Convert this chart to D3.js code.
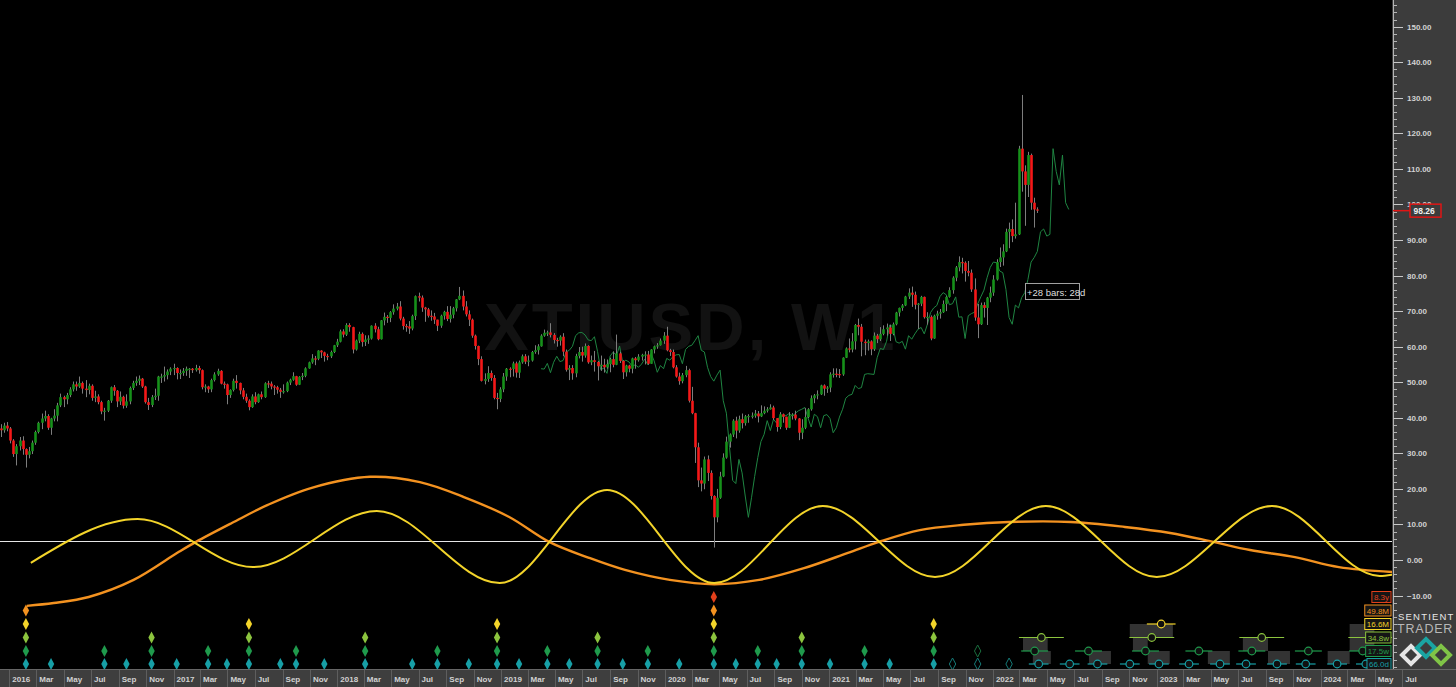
<!DOCTYPE html>
<html><head><meta charset="utf-8">
<script src="https://cdn.jsdelivr.net/npm/d3@7"></script>
<style>
html,body{margin:0;padding:0;background:#000;overflow:hidden}
svg{display:block}
</style></head><body>
<svg id="c" width="1456" height="687"></svg>
<script>
// ---------------- DATA ----------------
const symbolTitle = "XTIUSD, W1";
const firstWeekStart = "2015-12-13";
const firstOpen = 37.0;
const closes = [
36.5,37.8,37.0,33.6,29.8,32.0,33.6,31.2,29.6,30.6,
33.0,36.0,38.6,39.8,40.5,37.2,39.8,40.6,43.5,45.8,
45.2,46.4,48.0,49.4,48.8,49.8,48.2,47.8,49.0,45.6,
46.0,44.4,41.8,42.0,44.8,48.6,47.6,44.6,45.9,43.4,
44.6,48.4,49.8,50.4,51.0,48.8,44.4,43.6,45.8,46.2,
51.6,51.6,52.0,53.0,53.8,54.0,52.6,52.6,53.2,53.8,
53.8,53.4,54.0,53.4,48.6,48.8,48.0,50.6,52.2,53.2,
49.6,49.4,46.4,47.8,50.4,49.8,47.7,45.9,44.8,43.0,
46.0,44.4,46.6,45.8,49.7,49.6,48.8,48.6,47.9,47.3,
47.5,49.9,50.7,51.7,49.3,51.5,51.8,53.9,55.6,56.7,
56.6,58.9,58.4,57.4,57.3,58.5,60.4,61.4,64.3,63.4,
66.1,65.5,59.2,61.7,63.6,61.3,62.0,62.3,65.9,64.9,
62.1,67.4,68.4,68.1,69.7,70.7,71.3,67.9,65.8,65.7,
65.1,68.6,74.2,73.8,71.0,70.5,68.7,68.5,67.6,65.9,
68.7,69.8,67.8,69.0,70.8,73.3,74.3,71.3,69.1,67.6,
63.1,60.2,56.5,50.4,50.9,52.6,51.2,45.6,45.3,48.0,
51.6,53.8,53.7,55.3,52.7,55.6,57.3,55.8,56.1,58.5,
59.0,60.1,63.1,63.9,64.0,63.3,61.9,61.7,62.8,58.6,
53.5,54.0,52.5,57.4,58.5,57.5,60.2,55.6,56.2,55.7,
54.5,54.9,54.2,55.1,56.5,54.9,58.1,56.0,52.8,54.7,
53.8,56.7,56.2,57.2,57.7,57.8,55.2,59.2,60.1,60.4,
61.7,63.1,59.0,58.5,54.2,51.6,50.3,52.0,53.4,44.8,
41.3,31.7,22.4,21.5,28.3,24.5,18.0,12.0,17.5,23.5,
28.8,33.3,35.3,39.2,36.4,39.6,38.5,40.4,40.5,40.6,
41.2,40.4,41.3,42.0,42.4,42.9,39.9,37.4,41.0,40.3,
37.2,40.6,40.9,39.8,35.8,37.2,40.2,42.4,45.5,46.3,
46.6,49.1,48.2,48.5,52.2,52.4,52.3,52.2,56.9,59.5,
59.2,61.5,66.1,65.6,61.4,61.0,61.5,59.3,63.1,62.1,
63.6,64.9,65.4,63.6,66.3,69.6,70.9,71.6,74.1,75.2,
74.6,71.8,72.1,74.0,68.3,68.4,62.3,68.7,69.3,69.7,
72.0,74.0,75.9,79.4,82.3,83.8,83.6,81.3,80.8,76.1,
68.2,66.3,71.7,70.9,73.8,75.2,78.9,83.8,85.1,86.8,
92.3,93.1,91.1,91.6,115.7,109.3,105.5,113.9,100.5,98.6,
98.26];
const highs = [
38.2,38.6,38.8,37.4,34.0,32.6,34.6,34.8,31.4,31.8,
33.6,36.4,38.9,41.2,42.0,41.0,40.0,42.4,44.2,46.8,
46.2,47.0,48.6,50.2,50.2,51.6,50.2,50.6,49.6,49.4,
47.6,46.6,44.8,42.8,45.0,48.8,49.2,47.8,47.4,46.2,
46.6,48.8,50.4,51.6,51.9,51.2,49.0,45.6,46.4,48.2,
51.8,52.4,54.4,53.6,54.2,55.2,54.2,53.6,54.0,54.4,
54.0,54.0,54.9,54.6,53.6,49.4,49.0,51.0,52.8,53.8,
53.4,50.2,49.6,48.0,51.0,52.0,49.9,48.4,46.8,45.2,
46.6,47.2,46.8,47.4,50.0,50.4,50.2,49.2,49.0,48.4,
49.4,50.2,51.0,52.8,51.8,51.7,52.6,54.2,55.8,57.9,
57.4,59.0,59.0,58.6,58.0,58.9,60.5,62.2,64.8,64.9,
66.6,66.6,65.6,62.0,64.2,64.0,63.2,63.2,66.0,66.6,
65.6,67.5,69.6,68.9,70.0,71.9,72.3,72.8,68.4,66.4,
67.2,69.0,74.4,75.2,74.4,71.2,70.9,70.2,69.5,67.6,
69.0,70.1,71.4,71.4,71.2,73.4,76.8,75.8,72.8,70.2,
67.9,63.4,60.3,57.3,52.5,54.5,53.3,52.0,47.0,48.6,
52.6,54.0,54.2,55.8,55.8,56.1,57.8,57.9,57.5,58.8,
60.4,60.7,63.5,64.8,64.5,66.6,63.8,62.5,63.2,63.8,
59.2,54.8,54.8,58.0,59.9,60.0,60.9,60.4,57.5,58.8,
56.0,57.5,56.6,56.4,56.9,58.7,63.4,58.6,56.2,54.9,
54.9,56.9,57.1,57.9,58.0,58.7,58.8,59.3,60.3,61.0,
62.3,64.1,65.6,59.4,59.2,54.8,52.7,52.6,54.6,53.8,
48.7,41.4,33.0,26.0,29.1,29.4,25.2,18.2,20.0,24.8,
30.0,34.7,35.6,39.6,40.3,40.6,41.2,40.8,41.0,41.5,
42.2,41.9,43.5,43.2,43.0,43.8,43.4,39.9,41.6,41.2,
40.3,41.6,41.3,42.0,39.9,39.6,42.7,42.7,46.3,46.7,
47.7,49.3,49.4,48.9,52.8,53.9,53.9,53.7,57.0,59.8,
62.3,63.8,66.4,67.9,66.4,62.0,62.0,61.8,64.0,63.6,
65.5,66.0,66.5,66.2,66.8,69.8,71.0,72.0,74.3,76.4,
76.9,75.5,72.3,74.3,74.1,69.7,68.8,69.0,70.1,70.6,
73.0,74.2,76.7,79.8,82.7,85.4,85.0,84.0,84.1,81.7,
79.2,72.0,72.4,72.5,74.0,76.9,80.1,84.6,87.9,88.8,
93.2,94.9,95.8,100.5,116.5,130.8,111.0,114.8,114.3,101.9,
99.2];
const lows = [
34.6,35.8,36.2,32.8,29.0,26.6,30.8,29.6,26.0,28.6,
29.8,32.4,35.6,36.8,39.0,36.6,35.2,39.0,39.0,43.0,
43.0,43.8,45.8,47.4,47.6,48.4,46.8,45.8,46.6,44.8,
44.4,43.8,41.0,39.2,41.6,44.2,46.2,43.0,43.6,42.6,
42.8,43.8,47.8,49.0,49.2,48.4,44.0,42.2,43.0,45.0,
44.8,49.8,50.2,50.8,52.0,52.0,50.8,50.9,51.8,51.8,
51.2,52.6,53.0,52.4,48.0,47.2,47.0,47.2,50.2,51.8,
49.4,48.2,43.8,45.6,47.4,48.2,46.6,45.2,44.2,42.1,
42.8,43.8,44.2,45.2,45.6,48.4,48.0,46.4,46.8,45.6,
46.8,47.2,49.2,50.4,49.0,49.2,50.6,51.4,53.8,55.2,
54.8,56.2,56.8,55.8,56.2,56.8,58.2,59.9,61.2,62.6,
63.0,64.2,58.1,58.9,61.0,60.0,60.2,60.8,62.0,64.0,
61.8,62.0,66.0,66.7,66.9,69.0,70.2,67.4,64.8,64.2,
63.6,64.6,67.5,72.7,69.8,67.0,68.2,67.3,66.4,64.4,
65.3,67.6,67.2,66.8,68.0,69.9,73.1,70.2,68.5,65.8,
62.5,59.2,54.8,50.2,49.4,50.1,50.4,45.2,42.4,44.4,
47.2,50.4,51.4,51.6,51.3,51.2,55.2,55.1,54.5,55.8,
58.0,57.8,60.0,62.8,63.0,62.6,60.9,60.0,60.3,57.3,
53.0,50.6,50.7,51.4,56.7,55.8,56.9,55.2,54.8,53.0,
50.5,53.2,52.7,53.8,52.8,54.2,54.8,55.4,50.9,51.6,
52.8,52.5,53.8,55.8,56.1,55.0,54.9,55.2,58.1,59.4,
60.3,60.8,58.7,57.4,53.9,51.3,49.3,49.7,51.4,44.3,
41.0,27.3,20.5,19.3,19.9,22.2,17.0,3.5,10.6,17.2,
23.3,28.5,31.6,34.6,34.2,35.8,37.0,37.8,38.6,39.8,
40.0,38.7,40.2,41.0,41.5,42.3,39.4,36.1,36.8,38.6,
36.6,37.1,39.5,39.3,33.7,34.0,36.8,39.9,42.0,44.1,
45.2,46.4,46.2,47.0,47.2,51.3,51.4,51.2,51.8,56.8,
58.4,58.4,59.2,63.2,57.3,57.6,58.9,57.6,58.8,61.0,
61.6,63.2,63.1,61.6,63.2,66.0,68.5,70.1,71.4,73.4,
71.2,70.5,65.0,71.4,67.9,66.2,61.8,62.2,67.6,67.9,
69.5,70.0,73.8,74.9,78.4,81.2,80.6,78.3,79.8,75.4,
67.3,62.4,66.1,68.2,66.1,72.5,74.3,78.6,82.4,82.8,
86.6,87.7,89.4,90.4,91.4,103.6,94.0,102.1,98.5,93.5,
97.6];

// forward-displaced line (FLD), one value per week starting at week index fldStartWeek
const fldStartWeek = 172;
const fldValues = [
53.8,53.7,55.3,52.7,55.6,57.3,55.8,56.1,58.5,
59.0,60.1,63.1,63.9,64.0,63.3,61.9,61.7,62.8,58.6,
53.5,54.0,52.5,57.4,58.5,57.5,60.2,55.6,56.2,55.7,
54.5,54.9,54.2,55.1,56.5,54.9,58.1,56.0,52.8,54.7,
53.8,56.7,56.2,57.2,57.7,57.8,55.2,59.2,60.1,60.4,
61.7,63.1,59.0,58.5,54.2,51.6,50.3,52.0,53.4,44.8,
41.3,31.7,22.4,21.5,28.3,24.5,18.0,12.0,17.5,23.5,
28.8,33.3,35.3,39.2,36.4,39.6,38.5,40.4,40.5,40.6,
41.2,40.4,41.3,42.0,42.4,42.9,39.9,37.4,41.0,40.3,
37.2,40.6,40.9,39.8,35.8,37.2,40.2,42.4,45.5,46.3,
46.6,49.1,48.2,48.5,52.2,52.4,52.3,52.2,56.9,59.5,
59.2,61.5,66.1,65.6,61.4,61.0,61.5,59.3,63.1,62.1,
63.6,64.9,65.4,63.6,66.3,69.6,70.9,71.6,74.1,75.2,
74.6,71.8,72.1,74.0,68.3,68.4,62.3,68.7,69.3,69.7,
72.0,74.0,75.9,79.4,82.3,83.8,83.6,81.3,80.8,76.1,
68.2,66.3,71.7,70.9,73.8,75.2,78.9,83.8,85.1,86.8,
92.3,93.1,91.1,91.6,115.7,109.3,105.5,113.9,100.5,98.6];

// cycle overlays (values in price-axis units)
const cycleZero = 5.35;
const yellowDates = ["2016-02-18","2016-10-13","2017-06-27","2018-03-30","2018-12-29","2019-08-25","2020-04-20","2020-12-18","2021-08-25","2022-04-29","2023-01-01","2023-09-15","2024-05-12","2024-06-10"];
const yellowValues = [-0.8,11.5,-2.0,13.8,-6.5,19.7,-6.5,15.2,-4.8,15.2,-4.8,15.2,-4.5,-4.1];
const orangeDates = ["2016-02-09","2016-04-09","2016-06-26","2016-10-04","2017-01-13","2017-02-20","2017-05-11","2017-07-30","2017-11-05","2018-03-15","2018-07-04","2018-10-10","2019-01-19","2019-04-18","2019-07-16","2019-10-04","2020-01-12","2020-04-20","2020-07-29","2020-11-06","2021-02-12","2021-04-22","2021-07-22","2021-10-28","2022-02-06","2022-06-24","2022-10-22","2023-01-31","2023-04-30","2023-07-28","2023-11-05","2024-02-11","2024-06-11"];
const orangeValues = [-12.9,-12.1,-10.4,-5.6,2.3,5.1,10.4,15.5,20.3,23.4,21.9,17.7,12.1,5.1,0.6,-2.8,-5.6,-6.8,-5.6,-2.3,2.0,5.1,8.4,9.9,10.7,10.7,9.3,7.6,5.3,2.8,0.8,-2.0,-3.4];

// cycle legend
const cycleLabels = ["8.3y","49.8M","16.6M","34.8w","17.5w","66.0d"];

// trough markers: week index + how many cycles trough there (1 = shortest only)
const troughWeeks = [8,16,33,40,48,56,66,72,79,89,94,103,116,131,139,149,158,165,174,181,190,198,206,216,227,234,241,247,255,264,275,283,297];
const troughDepth = [5,1,2,1,3,1,2,1,4,1,2,1,3,1,2,1,4,1,2,1,3,1,2,1,6,1,2,1,3,1,2,1,4];
const pendingWeeks = [303,311,321];
const pendingDepth = [1,2,1];

// projected future troughs per cycle row
const projYellow = ["2023-01-11"];
const projLime = ["2022-04-19","2022-12-21","2023-08-23","2024-04-22"];
const projGreen = ["2022-04-04","2022-08-02","2022-12-07","2023-04-05","2023-08-01","2023-12-05","2024-04-04"];
const projTeal = ["2022-04-13","2022-06-21","2022-08-22","2022-11-02","2023-01-06","2023-03-14","2023-05-22","2023-07-19","2023-09-26","2023-11-29","2024-02-07","2024-04-11"];
const projWindowDays = [0,0,32,50,30,22];
const projBoxes = [
 ["2022-03-09","2022-05-03",3,4],["2022-03-31","2022-05-10",4,5],["2022-08-03","2022-09-21",4,5],
 ["2022-11-02","2023-02-06",2,3],["2022-11-09","2022-12-12",3,4],["2022-12-12","2023-01-30",4,5],
 ["2023-04-25","2023-06-13",4,5],["2023-07-12","2023-09-06",3,4],["2023-09-06","2023-10-25",4,5],
 ["2024-01-17","2024-03-06",4,5],["2024-03-06","2024-04-30",2,4]];

const priceTicks = [-10,0,10,20,30,40,50,60,70,80,90,100,110,120,130,140,150];
const fldLabel = "+28 bars: 28d";

// ---------------- STYLE / LAYOUT ----------------
const W=1456,H=687, PR=1392, PB=669;
const cycleColors = ["#e2401b","#f39220","#f3d42a","#8cc43e","#1f9a4c","#179fa6"];
const rowY = [597,610.5,624,637.5,651,664];
const font = "'Liberation Sans', Arial, sans-serif";

const svg = d3.select("#c");
const parse = d3.timeParse("%Y-%m-%d");
const week0 = parse(firstWeekStart);
const weekDate = i => d3.timeDay.offset(week0, 7*i);

const x = d3.scaleTime().domain([new Date(2016,0,1), new Date(2024,0,1)]).range([9.3,1320.5]);
const y = d3.scaleLinear().domain([0,150]).range([560,26.7]);

svg.append("rect").attr("width",W).attr("height",H).attr("fill","#000");

const plot = svg.append("g");
svg.append("defs").append("clipPath").attr("id","pc").append("rect").attr("width",PR).attr("height",PB);
plot.attr("clip-path","url(#pc)");

// watermark
plot.append("text").attr("x",484).attr("y",350).text(symbolTitle)
  .attr("font-family",font).attr("font-weight",700).attr("font-size",67)
  .attr("letter-spacing",3).attr("fill","#121212");

// cycle zero line
plot.append("line").attr("x1",0).attr("x2",PR).attr("y1",Math.round(y(cycleZero))+0.5).attr("y2",Math.round(y(cycleZero))+0.5)
  .attr("stroke","#e6e6e6").attr("stroke-width",1);

const oLine = d3.line().curve(d3.curveCatmullRom.alpha(0.5)).x(d=>x(d[0])).y(d=>y(d[1]));
const yLine = d3.line().curve(d3.curveMonotoneX).x(d=>x(d[0])).y(d=>y(d[1]));
plot.append("path").datum(orangeDates.map((d,i)=>[parse(d),orangeValues[i]]))
  .attr("d",oLine).attr("fill","none").attr("stroke",cycleColors[1]).attr("stroke-width",2.4);
plot.append("path").datum(yellowDates.map((d,i)=>[parse(d),yellowValues[i]]))
  .attr("d",yLine).attr("fill","none").attr("stroke",cycleColors[2]).attr("stroke-width",2);

// FLD
plot.append("path").datum(fldValues.map((v,k)=>[weekDate(fldStartWeek+k),v]))
  .attr("d",d3.line().x(d=>x(d[0])).y(d=>y(d[1])))
  .attr("fill","none").attr("stroke","#1f8542").attr("stroke-width",1);

// candles
const candles = closes.map((c,i)=>{
  const o = i===0?firstOpen:closes[i-1];
  return {d:weekDate(i),o,c,h:Math.max(highs[i],o,c),l:Math.min(lows[i],o,c)};
});
const cg = plot.append("g");
cg.selectAll("line").data(candles).join("line")
  .attr("x1",d=>Math.round(x(d.d))+0.5).attr("x2",d=>Math.round(x(d.d))+0.5)
  .attr("y1",d=>y(d.h)).attr("y2",d=>y(d.l)).attr("stroke","#7d7d7d").attr("stroke-width",1);
cg.selectAll("rect").data(candles).join("rect")
  .attr("x",d=>Math.round(x(d.d))-0.8).attr("width",2.6)
  .attr("y",d=>y(Math.max(d.o,d.c)))
  .attr("height",d=>Math.max(1.2,Math.abs(y(d.o)-y(d.c))))
  .attr("fill",d=>d.c>=d.o?"#16901a":"#f41818");

// fld label
const lb = plot.append("g");
lb.append("rect").attr("x",1025.5).attr("y",283.5).attr("width",54).attr("height",16)
  .attr("fill","#000").attr("stroke","#a0a0a0").attr("stroke-width",1);
lb.append("text").attr("x",1027).attr("y",295.5).text(fldLabel)
  .attr("font-family",font).attr("font-size",9.5).attr("fill","#dedede");

// projection boxes
plot.selectAll("rect.pb").data(projBoxes).join("rect").attr("class","pb")
  .attr("x",d=>x(parse(d[0]))).attr("width",d=>x(parse(d[1]))-x(parse(d[0])))
  .attr("y",d=>rowY[d[2]]).attr("height",d=>rowY[d[3]]-rowY[d[2]])
  .attr("fill","#333333");

// projection lines + circles
[[2,projYellow],[3,projLime],[4,projGreen],[5,projTeal]].forEach(([row,dates])=>{
  const g = plot.append("g");
  dates.forEach(ds=>{
    const d = parse(ds);
    const x0 = x(d3.timeDay.offset(d,-projWindowDays[row])), x1 = x(d3.timeDay.offset(d,projWindowDays[row]));
    g.append("line").attr("x1",x0).attr("x2",x1).attr("y1",rowY[row]).attr("y2",rowY[row])
      .attr("stroke",cycleColors[row]).attr("stroke-width",1.2);
    g.append("circle").attr("cx",x(d)).attr("cy",rowY[row]).attr("r",3.8)
      .attr("fill","#101010").attr("stroke",cycleColors[row]).attr("stroke-width",1.2);
  });
});

// diamonds
const dia = (cx,cy)=>`M${cx},${cy-6}L${cx+3.2},${cy}L${cx},${cy+6}L${cx-3.2},${cy}Z`;
troughWeeks.forEach((w,k)=>{
  const cx = x(weekDate(w));
  for(let r=6-troughDepth[k]; r<=5; r++){
    plot.append("path").attr("d",dia(cx,rowY[r])).attr("fill",cycleColors[r]);
  }
});
pendingWeeks.forEach((w,k)=>{
  const cx = x(weekDate(w));
  for(let r=6-pendingDepth[k]; r<=5; r++){
    plot.append("path").attr("d",dia(cx,rowY[r])).attr("fill","none")
      .attr("stroke",r===5?"#157a78":"#1a6e3e").attr("stroke-width",1);
  }
});

// cycle legend boxes
cycleLabels.forEach((t,r)=>{
  const g = svg.append("g");
  const tx = g.append("text").attr("y",rowY[r]+3).text(t)
    .attr("font-family",font).attr("font-size",8).attr("fill",cycleColors[r]);
  const w = tx.node().getComputedTextLength()+4;
  const bx = PR-1-w;
  g.insert("rect","text").attr("x",bx).attr("y",rowY[r]-5.5).attr("width",w).attr("height",11)
    .attr("fill","#151515").attr("stroke",cycleColors[r]).attr("stroke-width",1);
  tx.attr("x",bx+2);
});

// right price panel
svg.append("rect").attr("x",PR).attr("y",0).attr("width",W-PR).attr("height",PB).attr("fill","#3c3c3c");
svg.append("line").attr("x1",PR+1.5).attr("x2",PR+1.5).attr("y1",0).attr("y2",PB).attr("stroke","#b4b4b4");
const minor = d3.range(-30,158,2);
svg.selectAll("line.mn").data(minor).join("line").attr("class","mn")
  .attr("x1",PR+1.5).attr("x2",PR+5).attr("y1",d=>Math.round(y(d))+0.5).attr("y2",d=>Math.round(y(d))+0.5)
  .attr("stroke","#b4b4b4");
svg.selectAll("line.mj").data(priceTicks).join("line").attr("class","mj")
  .attr("x1",PR+1.5).attr("x2",PR+11).attr("y1",d=>Math.round(y(d))+0.5).attr("y2",d=>Math.round(y(d))+0.5)
  .attr("stroke","#c8c8c8");
svg.selectAll("text.pt").data(priceTicks).join("text").attr("class","pt")
  .attr("x",PR+15).attr("y",d=>y(d)+3).text(d=>d3.format(".2f")(d))
  .attr("font-family",font).attr("font-weight",700).attr("font-size",8).attr("fill","#d2d2d2");

// last price label
const lastPrice = closes[closes.length-1];
const ly = y(lastPrice);
svg.append("line").attr("x1",PR+1).attr("x2",PR+18).attr("y1",ly).attr("y2",ly).attr("stroke","#e01414").attr("stroke-width",1.5);
svg.append("rect").attr("x",PR+18).attr("y",ly-6.5).attr("width",31).attr("height",13)
  .attr("fill","#3c3c3c").attr("stroke","#e01414").attr("stroke-width",1.5);
svg.append("text").attr("x",PR+21.5).attr("y",ly+3).text(d3.format(".2f")(lastPrice))
  .attr("font-family",font).attr("font-weight",700).attr("font-size",8.5).attr("fill","#f0f0f0");

// logo
const lg = svg.append("g");
lg.append("text").attr("x",1398).attr("y",620).text("SENTIENT")
  .attr("font-family",font).attr("font-size",9.5).attr("letter-spacing",1.2).attr("fill","#e8e8e8");
lg.append("text").attr("x",1397).attr("y",633).text("TRADER")
  .attr("font-family",font).attr("font-size",12.5).attr("font-weight",300).attr("letter-spacing",0.8).attr("fill","#b8b8b8");
const chev = (cx,cy,s)=>`M${cx-s},${cy}L${cx},${cy-s}L${cx+s},${cy}L${cx},${cy+s}Z`;
[[1411,655,"#e6e6e6"],[1426,648,"#1aa4a2"],[1441,655,"#80c447"]].forEach(([cx,cy,c])=>{
  lg.append("path").attr("d",chev(cx,cy,9)).attr("fill","none").attr("stroke",c).attr("stroke-width",4).attr("stroke-linejoin","miter");
});

// bottom time axis
svg.append("rect").attr("x",0).attr("y",PB).attr("width",W).attr("height",H-PB).attr("fill","#3e3e3e");
svg.append("line").attr("x1",0).attr("x2",W).attr("y1",PB+0.5).attr("y2",PB+0.5).attr("stroke","#666");
const allTicks = d3.timeMonth.every(2).range(new Date(2015,11,1), new Date(2024,8,1)).filter(d=>x(d)>=-5 && x(d)<W);
svg.selectAll("line.tt").data(allTicks).join("line").attr("class","tt")
  .attr("x1",d=>Math.round(x(d))+0.5).attr("x2",d=>Math.round(x(d))+0.5)
  .attr("y1",PB+1).attr("y2",H).attr("stroke","#5e5e5e");
svg.selectAll("text.tl").data(allTicks).join("text").attr("class","tl")
  .attr("x",d=>x(d)+3).attr("y",682)
  .text(d=>d.getMonth()===0?d3.timeFormat("%Y")(d):d3.timeFormat("%b")(d))
  .attr("font-family",font).attr("font-weight",700).attr("font-size",8).attr("fill","#d2d2d2");
</script>
</body></html>
